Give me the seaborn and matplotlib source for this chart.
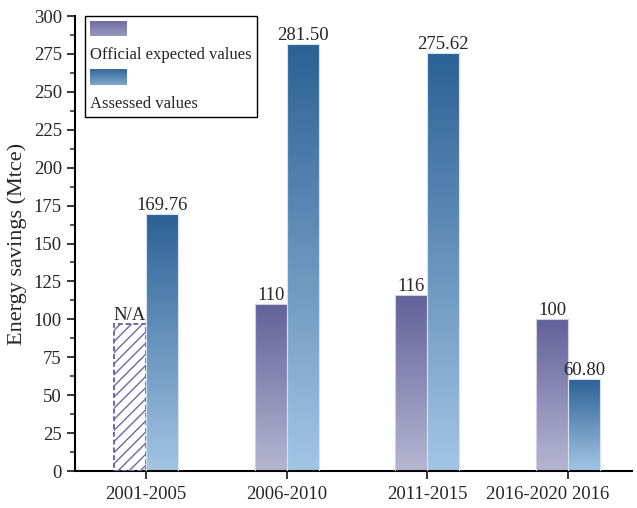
import numpy as np
import pandas as pd
import matplotlib
matplotlib.use("Agg")
import matplotlib.pyplot as plt
import seaborn as sns
from matplotlib.colors import LinearSegmentedColormap
from matplotlib.patches import Rectangle
from matplotlib.legend_handler import HandlerBase
from matplotlib.transforms import ScaledTranslation

# data
periods = ["2001-2005", "2006-2010", "2011-2015", "2016-2020"]
tick_labels = ["2001-2005", "2006-2010", "2011-2015", "2016-2020 2016"]
official = [np.nan, 110, 116, 100]
assessed = [169.76, 281.50, 275.62, 60.80]
na_height = 97  # placeholder height of the hatched N/A bar
official_labels = ["N/A", "110", "116", "100"]
assessed_labels = ["169.76", "281.50", "275.62", "60.80"]

df = pd.DataFrame({
    "period": periods * 2,
    "series": ["Official expected values"] * 4 + ["Assessed values"] * 4,
    "value": list(pd.Series(official).fillna(na_height)) + assessed,
})

# colours (light bottom -> dark top)
cmap_off = LinearSegmentedColormap.from_list("off", ["#b6b6d1", "#63619a"])
cmap_ass = LinearSegmentedColormap.from_list("ass", ["#a3c5e4", "#2c6195"])

sns.set_style("ticks")
plt.rcParams["font.family"] = ["Liberation Serif", "DejaVu Serif"]
plt.rcParams["hatch.linewidth"] = 1.0

fig = plt.figure(figsize=(6.37, 5.08), dpi=100)
ax = fig.add_axes([0.1177, 0.0728, 0.8745, 0.8957])

sns.barplot(data=df, x="period", y="value", hue="series", width=0.455,
            palette=["#8a88b5", "#5f8fbf"], saturation=1, legend=False, ax=ax)

grad = np.linspace(0, 1, 256).reshape(-1, 1)
for cont, cmap, edge in [(ax.containers[0], cmap_off, "#d0d0e2"),
                         (ax.containers[1], cmap_ass, "#d3e3f2")]:
    for i, p in enumerate(cont.patches):
        x0, w, h = p.get_x(), p.get_width(), p.get_height()
        if cmap is cmap_off and np.isnan(official[i]):
            # N/A bar: hatched, dashed outline
            p.set_facecolor("none")
            p.set_edgecolor("#6b68aa")
            p.set_hatch("///")
            p.set_linestyle((0, (2.5, 1.5)))
            p.set_linewidth(1.4)
            p.set_zorder(3)
            continue
        im = ax.imshow(grad, cmap=cmap, origin="lower", aspect="auto",
                       extent=[x0, x0 + w, 0, h], zorder=2)
        im.set_clip_path(p)
        p.set_facecolor("none")
        p.set_edgecolor(edge)
        p.set_linewidth(0.8)
        p.set_zorder(3)

ax.bar_label(ax.containers[0], labels=official_labels, padding=0, fontsize=13.5)
ax.bar_label(ax.containers[1], labels=assessed_labels, padding=0, fontsize=13.5)

# axes
ax.set_xlim(-0.505, 3.455)
ax.set_ylim(0, 300)
ax.set_yticks(np.arange(0, 301, 25))
ax.set_yticks(np.arange(12.5, 300, 25), minor=True)
ax.set_xticks(range(4))
ax.set_xticklabels(tick_labels)
ax.tick_params(axis="both", which="major", labelsize=13.5, length=6, width=1.3, direction="out")
ax.tick_params(axis="x", which="major", pad=5)
ax.tick_params(axis="y", which="minor", length=3.5, width=1.1)
lbl = ax.get_xticklabels()[-1]
lbl.set_transform(lbl.get_transform() + ScaledTranslation(-20.5 / 100, 0, fig.dpi_scale_trans))
ax.set_xlabel("")
ax.set_ylabel("Energy savings (Mtce)", fontsize=16, labelpad=5)
for s in ["top", "right"]:
    ax.spines[s].set_visible(False)
for s in ["left", "bottom"]:
    ax.spines[s].set_linewidth(1.5)
    ax.spines[s].set_color("black")


# legend: gradient swatch above its text
class GradHandler(HandlerBase):
    def __init__(self, cmap, lo, hi):
        super().__init__()
        self.cmap, self.lo, self.hi = cmap, lo, hi

    def create_artists(self, legend, orig_handle, xdescent, ydescent, width, height, fontsize, trans):
        n = 24
        arts = []
        for k in range(n):
            c = self.cmap(self.lo + (self.hi - self.lo) * k / (n - 1))
            arts.append(Rectangle((-xdescent, -ydescent + height * k / n), width, height / n + 0.3,
                                  facecolor=c, edgecolor="none", transform=trans))
        return arts


h_off = Rectangle((0, 0), 1, 1, label="_a")
h_ass = Rectangle((0, 0), 1, 1, label="_b")
blank1 = Rectangle((0, 0), 1, 1, visible=False)
blank2 = Rectangle((0, 0), 1, 1, visible=False)
leg = ax.legend([h_off, blank1, h_ass, blank2],
                ["", "Official expected values", "", "Assessed values"],
                handler_map={h_off: GradHandler(cmap_off, 0.35, 0.85),
                             h_ass: GradHandler(cmap_ass, 0.3, 0.9)},
                loc="upper left", bbox_to_anchor=(10 / 557, 1.0), borderaxespad=0,
                fontsize=12, handlelength=2.2, handleheight=1.05, handletextpad=-2.2,
                labelspacing=0.42, borderpad=0.3, fancybox=False, framealpha=1,
                edgecolor="black")
leg.get_frame().set_linewidth(1.0)

fig.savefig("out.png", dpi=100)
